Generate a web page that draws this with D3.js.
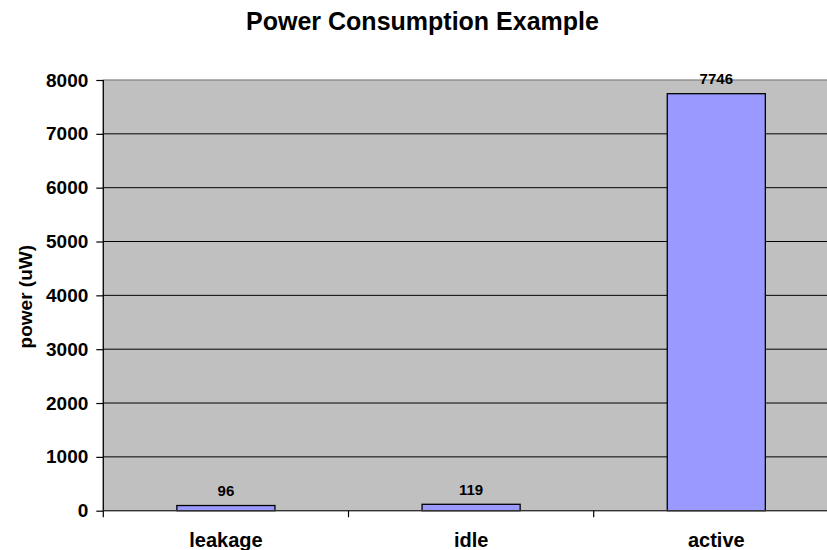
<!DOCTYPE html>
<html>
<head>
<meta charset="utf-8">
<script src="https://cdn.jsdelivr.net/npm/d3@7"></script>
<style>
  html, body { margin: 0; padding: 0; background: #fff; }
  svg { display: block; }
  text { font-family: Arial, "Liberation Sans", sans-serif; font-weight: bold; fill: #000; }
</style>
</head>
<body>
<svg id="chart" width="827" height="550"></svg>
<script>
const categories = ["leakage", "idle", "active"];
const values = [96, 119, 7746];
const yTicks = [0, 1000, 2000, 3000, 4000, 5000, 6000, 7000, 8000];
const chartTitle = "Power Consumption Example";
const yTitle = "power (uW)";

const W = 827, H = 550;
const plot = { left: 103.3, right: 838.9, top: 80, bottom: 510.7 };

const svg = d3.select("#chart");

const x = d3.scaleBand()
  .domain(categories)
  .range([plot.left, plot.right])
  .paddingInner(0.6)
  .paddingOuter(0.3);
const step = x.step();

const y = d3.scaleLinear()
  .domain([0, 8000])
  .range([plot.bottom, plot.top]);

// plot background
svg.append("rect")
  .attr("x", plot.left).attr("y", plot.top)
  .attr("width", plot.right - plot.left)
  .attr("height", plot.bottom - plot.top)
  .attr("fill", "#C0C0C0")
  .attr("stroke", "#808080")
  .attr("stroke-width", 1.2);

// gridlines
svg.append("g")
  .selectAll("line")
  .data(yTicks.filter(d => d > 0 && d < 8000))
  .join("line")
  .attr("x1", plot.left).attr("x2", plot.right)
  .attr("y1", d => y(d)).attr("y2", d => y(d))
  .attr("stroke", "#000")
  .attr("stroke-width", 1);

// bars
svg.append("g")
  .selectAll("rect")
  .data(categories)
  .join("rect")
  .attr("x", d => x(d))
  .attr("width", x.bandwidth())
  .attr("y", (d, i) => y(values[i]))
  .attr("height", (d, i) => y(0) - y(values[i]))
  .attr("fill", "#9999FF")
  .attr("stroke", "#000")
  .attr("stroke-width", 1.3);

// value labels
svg.append("g")
  .selectAll("text")
  .data(categories)
  .join("text")
  .attr("x", d => x(d) + x.bandwidth() / 2)
  .attr("y", (d, i) => y(values[i]) - 9.5)
  .attr("text-anchor", "middle")
  .style("font-size", "15px")
  .text((d, i) => values[i]);

// y axis
const yAxis = d3.axisLeft(y)
  .tickValues(yTicks)
  .tickSize(7)
  .tickPadding(8)
  .tickFormat(d3.format("d"));
const gy = svg.append("g")
  .attr("transform", `translate(${plot.left},0)`)
  .call(yAxis);
gy.select(".domain").attr("stroke", "#000").attr("stroke-width", 1.2)
  .attr("d", `M0,${plot.top}V${plot.bottom + 6.5}`);
gy.selectAll(".tick line").attr("stroke", "#000").attr("stroke-width", 1.2);
gy.selectAll(".tick text")
  .style("font-size", "19px")
  .style("font-family", "Arial, 'Liberation Sans', sans-serif")
  .style("font-weight", "bold")
  .attr("fill", "#000");

// x axis
const xAxis = d3.axisBottom(x).tickSize(0).tickPadding(20);
const gx = svg.append("g")
  .attr("transform", `translate(0,${plot.bottom})`)
  .call(xAxis);
gx.select(".domain").attr("stroke", "#333").attr("stroke-width", 1.2)
  .attr("d", `M${plot.left},0H${plot.right}`);
gx.selectAll(".tick text")
  .style("font-size", "20px")
  .style("font-family", "Arial, 'Liberation Sans', sans-serif")
  .style("font-weight", "bold")
  .attr("fill", "#000")
  .attr("dy", null)
  .attr("y", 36);

// category separator ticks
gx.append("g")
  .selectAll("line")
  .data(categories.slice(1))
  .join("line")
  .attr("x1", d => x(d) - step * 0.3)
  .attr("x2", d => x(d) - step * 0.3)
  .attr("y1", 0).attr("y2", 6.5)
  .attr("stroke", "#000")
  .attr("stroke-width", 1.2);

// title
svg.append("text")
  .attr("x", 422.5)
  .attr("y", 30)
  .attr("text-anchor", "middle")
  .style("font-size", "25px")
  .text(chartTitle);

// y title
svg.append("text")
  .attr("transform", `translate(32,296.7) rotate(-90)`)
  .attr("text-anchor", "middle")
  .style("font-size", "19px")
  .text(yTitle);
</script>
</body>
</html>
